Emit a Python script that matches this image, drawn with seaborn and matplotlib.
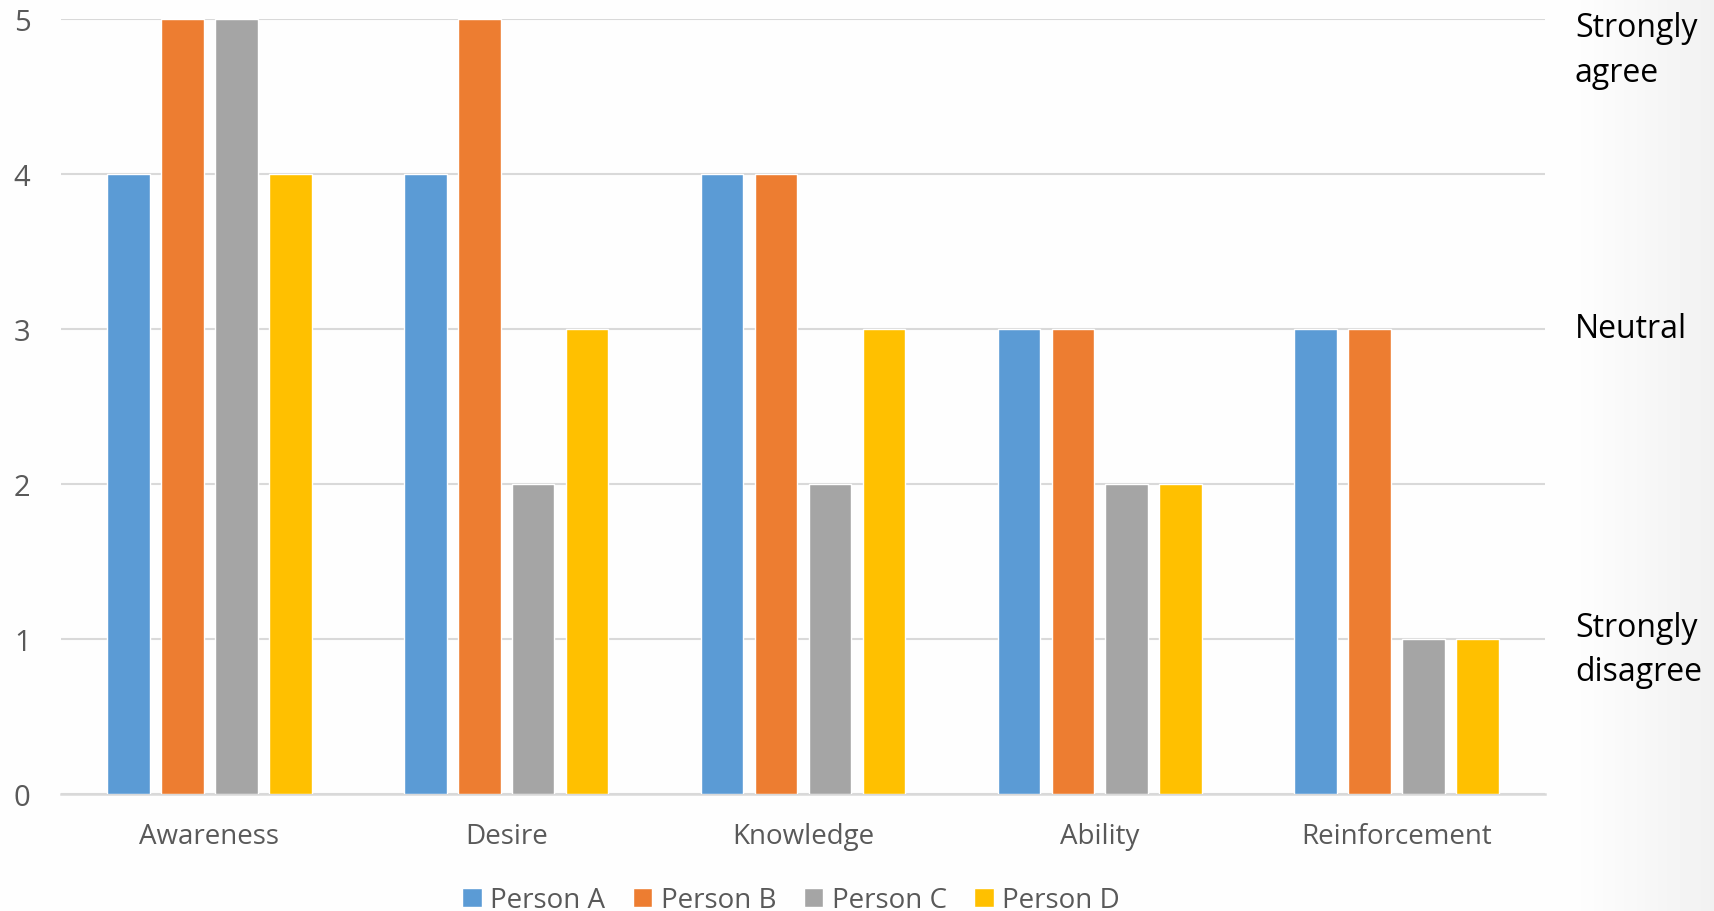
import numpy as np
import pandas as pd
import matplotlib
matplotlib.use("Agg")
import matplotlib.pyplot as plt
import seaborn as sns

# Data
categories = ["Awareness", "Desire", "Knowledge", "Ability", "Reinforcement"]
people = ["Person A", "Person B", "Person C", "Person D"]
person_a = [4, 4, 4, 3, 3]
person_b = [5, 5, 4, 3, 3]
person_c = [5, 2, 2, 2, 1]
person_d = [4, 3, 3, 2, 1]
scale_labels = ["Strongly\ndisagree", "Neutral", "Strongly\nagree"]
scale_pos = [0.93, 3.0, 4.8]
colors = ["#5B9BD5", "#ED7D31", "#A5A5A5", "#FFC000"]

df = pd.DataFrame({
    "Category": categories * 4,
    "Person": [p for p in people for _ in categories],
    "Score": person_a + person_b + person_c + person_d,
})

sns.set_theme(style="white")
plt.rcParams["font.family"] = ["Open Sans", "DejaVu Sans"]

fig = plt.figure(figsize=(17.14, 9.12), dpi=100)

# background with light gradient on the right edge
bg = fig.add_axes([0, 0, 1, 1], zorder=-10)
xs = np.linspace(0, 1, 400)
shade = np.where(xs < 0.92, 0.995, 0.995 - (xs - 0.92) / 0.08 * 0.05)
bg.imshow(np.tile(shade, (2, 1)), cmap="gray", vmin=0, vmax=1, aspect="auto",
          extent=[0, 1, 0, 1])
bg.axis("off")

ax = fig.add_axes([61 / 1714, 1 - 795 / 912, 1484 / 1714, 775 / 912])
ax.patch.set_alpha(0)
sns.barplot(data=df, x="Category", y="Score", hue="Person", palette=colors,
            width=0.727, gap=0.21, saturation=1, ax=ax, zorder=3)

ax.set_ylim(0, 5)
ax.set_xlim(-0.5, 4.5)
ax.set_yticks(range(6))
ax.yaxis.grid(True, color="#d9d9d9", linewidth=1.5, zorder=0)
ax.set_axisbelow(True)
for s in ["top", "right", "left"]:
    ax.spines[s].set_visible(False)
ax.spines["bottom"].set_color("#d9d9d9")
ax.spines["bottom"].set_linewidth(1.8)
ax.tick_params(axis="y", length=0, pad=22, labelsize=21, labelcolor="#595959")
ax.tick_params(axis="x", length=0, pad=20, labelsize=20, labelcolor="#595959")
ax.set_xlabel("")
ax.set_ylabel("")

for lab, yv in zip(scale_labels, scale_pos):
    ax.text(4.5 + 30 / 297, yv, lab, fontsize=23, color="black",
            va="center", ha="left", linespacing=1.45, clip_on=False)

ax.legend(loc="center", bbox_to_anchor=(0.492, -0.137), ncol=4, frameon=False,
          fontsize=20, handlelength=0.7, handleheight=0.7, handletextpad=0.3,
          columnspacing=1.0, labelcolor="#595959")

fig.savefig("out.png", dpi=100)
